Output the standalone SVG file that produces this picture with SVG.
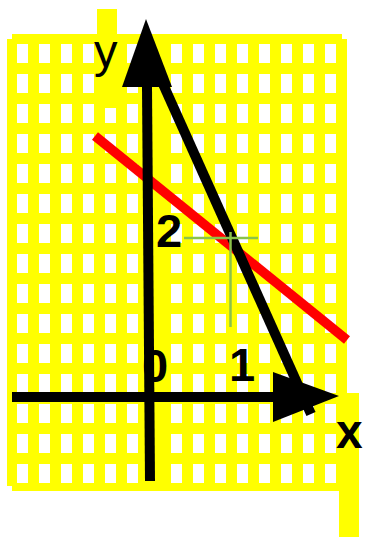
<svg xmlns="http://www.w3.org/2000/svg" width="365" height="538" viewBox="0 0 365 538">
  <style>
    .yel { fill: #ffff00; }
    .ax { stroke: #000000; stroke-width: 10; fill: none; }
    .head { fill: #000000; }
    .lbl { font-family: "Liberation Sans", Arial, sans-serif; fill: #000000; }
    .b { font-weight: bold; }
    .grn { stroke: #8bc34a; stroke-width: 2.5; fill: none; }
  </style>
  <defs>
    <pattern id="cells" patternUnits="userSpaceOnUse" x="17" y="44" width="22" height="30">
      <rect x="0" y="0" width="11" height="19" fill="#ffffff"/>
    </pattern>
  </defs>
  <rect width="365" height="538" fill="#ffffff"/>
  <g id="grid">
    <rect class="yel" x="7" y="39" width="340" height="447"/>
    <rect class="yel" x="12" y="34" width="330" height="457"/>
    <rect x="17" y="44" width="320" height="440" fill="url(#cells)"/>
    <rect class="yel" x="146" y="40" width="16" height="446"/>
    <rect class="yel" x="97" y="9" width="20" height="99"/>
    <rect class="yel" x="339" y="393" width="20" height="144"/>
  </g>
  <g id="labels">
    <text class="lbl" x="94" y="67" font-size="47">y</text>
    <text class="lbl b" x="156" y="247" font-size="47">2</text>
    <text class="lbl b" x="142" y="382" font-size="47">0</text>
    <text class="lbl b" x="229" y="381" font-size="47">1</text>
    <text class="lbl b" x="336" y="448" font-size="48">x</text>
  </g>
  <g id="connectors">
    <line id="red-line" x1="95" y1="136" x2="347" y2="340" stroke="#ff0000" stroke-width="9.5"/>
    <g id="y-axis">
      <line class="ax" x1="147" y1="87" x2="150" y2="481"/>
      <polygon class="head" points="146,19 122,87 172,87"/>
    </g>
    <g id="x-axis">
      <line class="ax" x1="12" y1="397" x2="274" y2="397"/>
      <polygon class="head" points="339,396 273,372 273,422"/>
    </g>
    <line id="black-line" class="ax" x1="150" y1="55" x2="311" y2="414"/>
    <g id="crosshair">
      <line class="grn" x1="184" y1="238" x2="258" y2="238"/>
      <line class="grn" x1="230.5" y1="232" x2="230.5" y2="327"/>
    </g>
  </g>
</svg>
